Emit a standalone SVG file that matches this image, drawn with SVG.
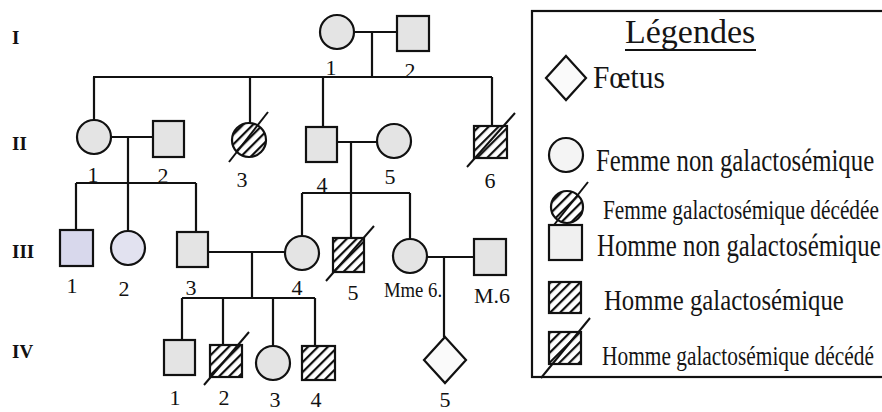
<svg xmlns="http://www.w3.org/2000/svg" width="882" height="412" viewBox="0 0 882 412">
<style>
.n{fill:#e4e4e4;stroke:#111;stroke-width:2.2}
.h{fill:url(#hatch);stroke:#111;stroke-width:2.2}
.w{fill:#fafafa;stroke:#111;stroke-width:2.2}
.l{stroke:#111;stroke-width:2.2;fill:none}
.s{stroke:#111;stroke-width:2;fill:none}
.t{font-family:"Liberation Serif",serif;font-size:22px;fill:#111;text-anchor:middle}
.g{font-family:"Liberation Serif",serif;font-size:19px;font-weight:bold;fill:#111}
.lg{font-family:"Liberation Serif",serif;fill:#151515}
</style>
<defs>
<pattern id="hatch" patternUnits="userSpaceOnUse" width="7" height="7" patternTransform="rotate(45)">
<rect width="7" height="7" fill="#fff"/>
<line x1="1" y1="0" x2="1" y2="7" stroke="#111" stroke-width="2.4"/>
</pattern>
</defs>
<rect width="882" height="412" fill="#fff"/>

<g id="gen-labels">
<text class="g" x="12" y="44">I</text>
<text class="g" x="12" y="150">II</text>
<text class="g" x="12" y="258">III</text>
<text class="g" x="12" y="358">IV</text>
</g>

<g id="connectors">
<path class="l" d="M354,32 H397 M372,32 V77 M93,77 H492"/>
<path class="l" d="M94,77 V120 M250,77 V123 M323,77 V127 M492,77 V126"/>
<path class="l" d="M112,137 H153 M128,137 V183 M76,183 H196 M76,183 V230 M128,183 V231 M196,183 V232"/>
<path class="l" d="M337,142 H377 M351,142 V193 M302,193 H410 M302,193 V236 M351,193 V238 M410,193 V239"/>
<path class="l" d="M208,252 H285 M252,252 V298 M182,298 H315 M182,298 V340 M223,298 V345 M273,298 V346 M315,298 V346"/>
<path class="l" d="M427,257 H474 M444,257 V337"/>
</g>

<g id="I-1"><circle class="n" cx="337" cy="32" r="17"/><text class="t" x="331" y="75">1</text></g>
<g id="I-2"><rect class="n" x="397" y="16" width="32" height="35"/><text class="t" x="410" y="78">2</text></g>

<g id="II-1"><circle class="n" cx="94" cy="137" r="17"/><text class="t" x="93" y="182">1</text></g>
<g id="II-2"><rect class="n" x="153" y="121" width="31" height="36"/><text class="t" x="163" y="183">2</text></g>
<g id="II-3"><circle class="h" cx="249" cy="140" r="17"/><line class="s" x1="229" y1="162" x2="268" y2="112"/><text class="t" x="242" y="187">3</text></g>
<g id="II-4"><rect class="n" x="306" y="127" width="31" height="35"/><text class="t" x="322" y="192">4</text></g>
<g id="II-5"><circle class="n" cx="394" cy="141" r="17"/><text class="t" x="390" y="184">5</text></g>
<g id="II-6"><rect class="h" x="474" y="126" width="33" height="32"/><line class="s" x1="467" y1="167" x2="515" y2="113"/><text class="t" x="490" y="188">6</text></g>

<g id="III-1"><rect x="60" y="230" width="33" height="36" fill="#d8d8ec" stroke="#111" stroke-width="2.2"/><text class="t" x="72" y="293">1</text></g>
<g id="III-2"><circle cx="128" cy="248" r="17" fill="#e2e2f0" stroke="#111" stroke-width="2.2"/><text class="t" x="124" y="296">2</text></g>
<g id="III-3"><rect class="n" x="177" y="232" width="31" height="35"/><text class="t" x="191" y="295">3</text></g>
<g id="III-4"><circle class="n" cx="302" cy="253" r="17"/><text class="t" x="297" y="295">4</text></g>
<g id="III-5"><rect class="h" x="333" y="238" width="31" height="34"/><line class="s" x1="326" y1="281" x2="374" y2="226"/><text class="t" x="353" y="300">5</text></g>
<g id="III-Mme6"><circle class="n" cx="410" cy="256" r="17"/><text class="t" font-size="20" transform="translate(413,297) scale(0.85,1)">Mme 6.</text></g>
<g id="III-M6"><rect class="n" x="474" y="239" width="32" height="36"/><text class="t" x="492" y="303" font-size="23">M.6</text></g>

<g id="IV-1"><rect class="n" x="164" y="340" width="31" height="35"/><text class="t" x="175" y="405">1</text></g>
<g id="IV-2"><rect class="h" x="210" y="345" width="32" height="32"/><line class="s" x1="204" y1="385" x2="249" y2="332"/><text class="t" x="224" y="405">2</text></g>
<g id="IV-3"><circle class="n" cx="273" cy="363" r="17"/><text class="t" x="275" y="407">3</text></g>
<g id="IV-4"><rect class="h" x="302" y="346" width="33" height="34"/><text class="t" x="316" y="407">4</text></g>
<g id="IV-5"><polygon class="w" points="445,337 466,360 445,383 424,360"/><text class="t" x="445" y="407">5</text></g>

<g id="legend">
<rect x="532" y="11" width="360" height="366" fill="none" stroke="#111" stroke-width="2.2"/>
<text class="lg" x="625" y="43" font-size="34">Légendes</text>
<line x1="625" y1="50" x2="756" y2="50" stroke="#111" stroke-width="1.8"/>
<polygon class="w" points="566,56 586,78 566,100 546,78"/>
<text class="lg" font-size="32" transform="translate(593,88) scale(0.92,1)">Fœtus</text>
<circle cx="566" cy="155" r="17" fill="#f4f4f4" stroke="#111" stroke-width="2.2"/>
<text class="lg" font-size="31" transform="translate(596,171) scale(0.8,1)">Femme non galactosémique</text>
<circle class="h" cx="567" cy="207" r="16"/>
<line class="s" x1="550" y1="230" x2="588" y2="182"/>
<text class="lg" font-size="27" transform="translate(603,219) scale(0.79,1)">Femme galactosémique décédée</text>
<rect x="549" y="225" width="33" height="35" fill="#f0f0f0" stroke="#111" stroke-width="2.2"/>
<text class="lg" font-size="31" transform="translate(597,256) scale(0.8,1)">Homme non galactosémique</text>
<rect class="h" x="549" y="282" width="32" height="31"/>
<text class="lg" font-size="30" transform="translate(604,310) scale(0.825,1)">Homme galactosémique</text>
<rect class="h" x="549" y="332" width="32" height="32"/>
<line class="s" x1="541" y1="378" x2="590" y2="318"/>
<text class="lg" font-size="28" transform="translate(602,365) scale(0.764,1)">Homme galactosémique décédé</text>
</g>
</svg>
